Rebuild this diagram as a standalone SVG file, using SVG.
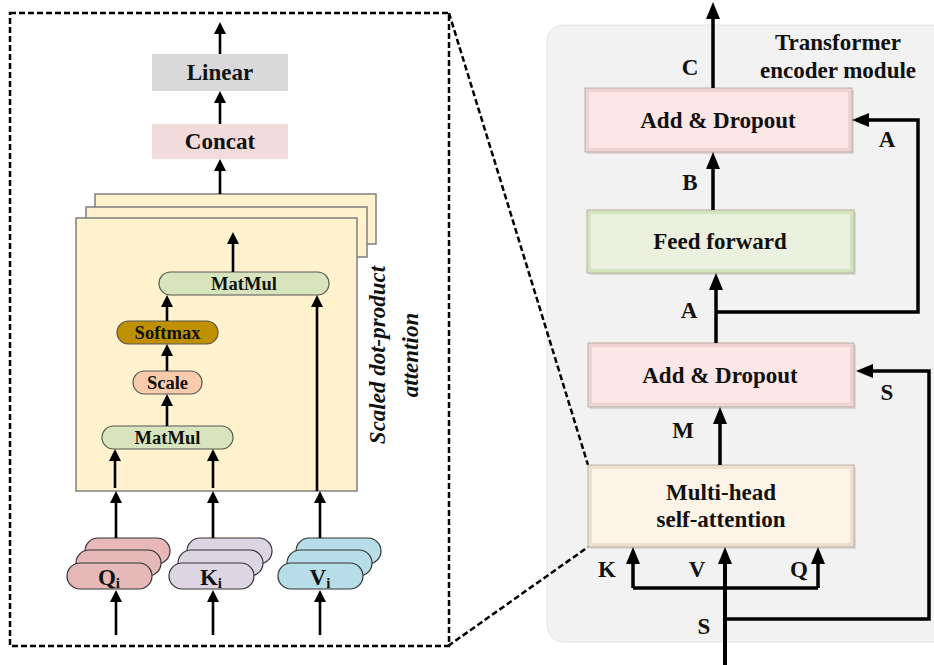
<svg xmlns="http://www.w3.org/2000/svg" width="934" height="665" viewBox="0 0 934 665">
  <defs>
    <marker id="ah" viewBox="0 0 12 12" refX="1" refY="6" markerWidth="12" markerHeight="12" markerUnits="userSpaceOnUse" orient="auto">
      <path d="M0,0 L12,6 L0,12 z" fill="#000"/>
    </marker>
    <marker id="ahb" viewBox="0 0 17 14" refX="1" refY="7" markerWidth="17" markerHeight="14" markerUnits="userSpaceOnUse" orient="auto">
      <path d="M0,0 L17,7 L0,14 z" fill="#000"/>
    </marker>
  </defs>
  <style>
    text { font-family: "Liberation Serif", "Times New Roman", serif; font-weight: bold; fill: #111; }
    .big { font-size: 23px; text-anchor: middle; }
    .mid { font-size: 18.5px; text-anchor: middle; }
    .rot { font-size: 23px; font-style: italic; text-anchor: middle; }
    .dash { fill: none; stroke: #000; stroke-width: 2.5; stroke-dasharray: 6 3; }
    .la { fill: none; stroke: #000; stroke-width: 2.6; marker-end: url(#ah); }
    .ra { fill: none; stroke: #000; stroke-width: 3.5; marker-end: url(#ahb); }
    .rl { fill: none; stroke: #000; stroke-width: 3.5; }
    .head { stroke: #7f7f7f; stroke-width: 1.5; fill: #fff2cc; }
    .pill { stroke: #555; stroke-width: 1.2; }
    .stk { stroke: #333; stroke-width: 1.2; }
    .bev-edge { stroke: #b8b0a8; stroke-width: 1; }
  </style>

  <!-- right panel background -->
  <rect id="encoder-panel" x="547" y="25" width="420" height="617" rx="16" fill="#f2f2f2" stroke="#e4e4e4" stroke-width="1"/>

  <!-- dashed detail frame and its leader lines -->
  <g id="detail-frame">
    <rect class="dash" x="10" y="13" width="439" height="633"/>
    <path class="dash" d="M449,13 L588,465"/>
    <path class="dash" d="M448,646 L588,547"/>
  </g>

  <!-- ===== left: multi-head attention detail ===== -->
  <g id="linear">
    <rect x="152" y="54" width="136" height="37" fill="#d9d9d9"/>
    <text class="big" x="220" y="80">Linear</text>
  </g>
  <g id="concat">
    <rect x="152" y="124" width="136" height="35" fill="#f2dcdb"/>
    <text class="big" x="220" y="149">Concat</text>
  </g>

  <g id="heads">
    <rect class="head" x="95" y="194" width="281" height="50"/>
    <rect class="head" x="86" y="207" width="281" height="50"/>
    <rect class="head" x="76" y="218" width="281" height="273"/>
  </g>

  <g id="matmul-top">
    <rect class="pill" x="159" y="272" width="170" height="23" rx="11.5" fill="#d7e4bd"/>
    <text class="mid" x="244" y="289.5">MatMul</text>
  </g>
  <g id="softmax">
    <rect class="pill" x="117" y="321" width="101" height="23" rx="11.5" fill="#bf9000"/>
    <text class="mid" x="167.5" y="338.5">Softmax</text>
  </g>
  <g id="scale">
    <rect class="pill" x="133" y="371" width="69" height="23" rx="11.5" fill="#f8cbad"/>
    <text class="mid" x="167.5" y="388.5">Scale</text>
  </g>
  <g id="matmul-bottom">
    <rect class="pill" x="102" y="426" width="131" height="23" rx="11.5" fill="#d7e4bd"/>
    <text class="mid" x="167.5" y="443.5">MatMul</text>
  </g>

  <g id="sdpa-label">
    <text class="rot" transform="translate(385,355) rotate(-90)">Scaled dot-product</text>
    <text class="rot" transform="translate(418,355) rotate(-90)">attention</text>
  </g>

  <g id="q-stack">
    <rect class="stk" x="85" y="538" width="85" height="26" rx="13" fill="#e6b9b8"/>
    <rect class="stk" x="76" y="550" width="85" height="26" rx="13" fill="#e6b9b8"/>
    <rect class="stk" x="67" y="563" width="85" height="26" rx="13" fill="#e6b9b8"/>
    <text class="big" x="109" y="585">Q<tspan font-size="15" dy="3">i</tspan></text>
  </g>
  <g id="k-stack">
    <rect class="stk" x="187" y="538" width="85" height="26" rx="13" fill="#dcd6e4"/>
    <rect class="stk" x="178" y="550" width="85" height="26" rx="13" fill="#dcd6e4"/>
    <rect class="stk" x="169" y="563" width="85" height="26" rx="13" fill="#dcd6e4"/>
    <text class="big" x="211" y="585">K<tspan font-size="15" dy="3">i</tspan></text>
  </g>
  <g id="v-stack">
    <rect class="stk" x="296" y="538" width="85" height="26" rx="13" fill="#b6dde8"/>
    <rect class="stk" x="287" y="550" width="85" height="26" rx="13" fill="#b6dde8"/>
    <rect class="stk" x="278" y="563" width="85" height="26" rx="13" fill="#b6dde8"/>
    <text class="big" x="320" y="585">V<tspan font-size="15" dy="3">i</tspan></text>
  </g>

  <!-- ===== right: transformer encoder ===== -->
  <g id="encoder-title">
    <text class="big" x="838" y="50">Transformer</text>
    <text class="big" x="838" y="78">encoder module</text>
  </g>

  <g id="add-dropout-top">
    <rect x="587" y="90" width="267" height="64" fill="#c9b2b2" opacity="0.45"/>
    <rect class="bev-edge" x="585" y="88" width="267" height="64" fill="#efd3d3"/>
    <rect x="589" y="92" width="259" height="56" fill="#fde6e6"/>
    <text class="big" x="718" y="128">Add &amp; Dropout</text>
  </g>
  <g id="feed-forward">
    <rect x="589" y="212" width="267" height="63" fill="#b7c2a2" opacity="0.45"/>
    <rect class="bev-edge" x="587" y="210" width="267" height="63" fill="#d6e3bf"/>
    <rect x="591" y="214" width="259" height="55" fill="#ebf1de"/>
    <text class="big" x="720" y="249">Feed forward</text>
  </g>
  <g id="add-dropout-bottom">
    <rect x="590" y="345" width="266" height="64" fill="#c9b2b2" opacity="0.45"/>
    <rect class="bev-edge" x="588" y="343" width="266" height="64" fill="#efd3d3"/>
    <rect x="592" y="347" width="258" height="56" fill="#fde6e6"/>
    <text class="big" x="720" y="383">Add &amp; Dropout</text>
  </g>
  <g id="multi-head">
    <rect x="590" y="467" width="266" height="82" fill="#c8bba8" opacity="0.45"/>
    <rect class="bev-edge" x="588" y="465" width="266" height="82" fill="#eee0cc"/>
    <rect x="592" y="469" width="258" height="74" fill="#fdf4e7"/>
    <text class="big" x="721" y="500">Multi-head</text>
    <text class="big" x="721" y="527">self-attention</text>
  </g>

  <!-- connectors -->
  <g id="connectors">
    <!-- left -->
    <path class="la" d="M220,54 V33"/>
    <path class="la" d="M220,124 V102"/>
    <path class="la" d="M220,194 V170"/>
    <path class="la" d="M233,272 V243"/>
    <path class="la" d="M167,321 V306"/>
    <path class="la" d="M167,371 V355"/>
    <path class="la" d="M167,426 V405"/>
    <path class="la" d="M115,488 V460"/>
    <path class="la" d="M213,488 V460"/>
    <path class="la" d="M317,491 V306"/>
    <path class="la" d="M116,538 V502"/>
    <path class="la" d="M213,538 V502"/>
    <path class="la" d="M320,538 V502"/>
    <path class="la" d="M116,635 V601"/>
    <path class="la" d="M213,635 V601"/>
    <path class="la" d="M320,635 V601"/>
    <!-- right -->
    <path class="ra" d="M713,88 V18"/>
    <path class="ra" d="M713,210 V168"/>
    <path class="ra" d="M716,343 V289"/>
    <path class="ra" d="M716,312 H918 V120 H868"/>
    <path class="ra" d="M720,465 V423"/>
    <path class="ra" d="M725,619 H929 V371 H872"/>
    <path class="ra" d="M725,665 V563" style="stroke-width:4"/>
    <path class="rl" d="M633,588 H818"/>
    <path class="ra" d="M633,588 V563"/>
    <path class="ra" d="M818,588 V563"/>
  </g>

  <g id="edge-labels">
    <text class="big" x="690" y="75">C</text>
    <text class="big" x="690" y="190">B</text>
    <text class="big" x="887" y="147">A</text>
    <text class="big" x="689" y="318">A</text>
    <text class="big" x="887" y="400">S</text>
    <text class="big" x="683" y="438">M</text>
    <text class="big" x="607" y="577">K</text>
    <text class="big" x="697" y="577">V</text>
    <text class="big" x="799" y="577">Q</text>
    <text class="big" x="704" y="634">S</text>
  </g>
</svg>
